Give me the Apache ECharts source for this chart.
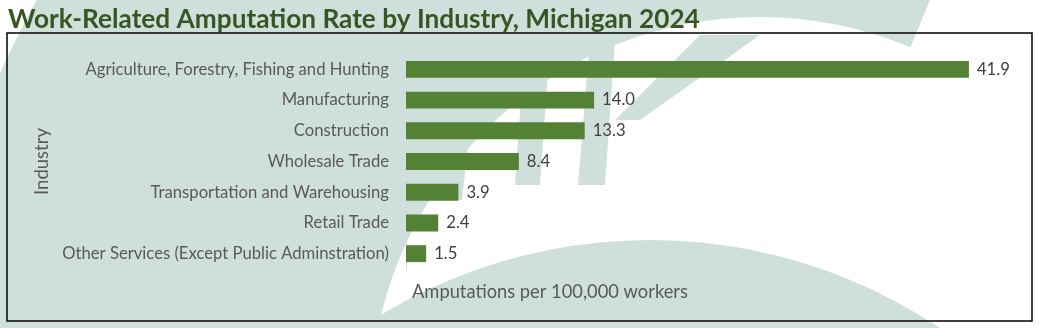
<!DOCTYPE html>
<html>
<head>
<meta charset="utf-8">
<script src="https://cdn.jsdelivr.net/npm/echarts@6/dist/echarts.min.js"></script>
<style>
html,body{margin:0;padding:0;background:#fff;}
#c{width:1039px;height:328px;}
</style>
</head>
<body>
<div id="c"></div>
<script>
const titleText = 'Work-Related Amputation Rate by Industry, Michigan 2024';
const categories = [
  'Agriculture, Forestry, Fishing and Hunting',
  'Manufacturing',
  'Construction',
  'Wholesale Trade',
  'Transportation and Warehousing',
  'Retail Trade',
  'Other Services (Except Public Adminstration)'
];
const values = [41.9, 14.0, 13.3, 8.4, 3.9, 2.4, 1.5];
const xAxisName = 'Amputations per 100,000 workers';
const yAxisName = 'Industry';

const FAMILY = 'Lato, "Open Sans", sans-serif';
const cv = document.createElement('canvas').getContext('2d');
function fit(text, weight, target) {
  cv.font = weight + ' 100px ' + FAMILY;
  return 100 * target / cv.measureText(text).width;
}
const titleSize = fit(titleText, 'bold', 692);
const catSize = fit(categories[6], 'normal', 327);
const xNameSize = fit(xAxisName, 'normal', 276);
const yNameSize = fit(yAxisName, 'normal', 67);

const WM = '#cfe0dc';
const chart = echarts.init(document.getElementById('c'), null, {renderer: 'canvas'});
chart.setOption({
  backgroundColor: '#ffffff',
  animation: false,
  title: {
    text: titleText, left: 3, top: 2,
    textStyle: {fontFamily: FAMILY, fontWeight: 'bold', fontSize: titleSize, color: '#375623'}
  },
  grid: {left: 406, top: 54, height: 215, width: 604.6, containLabel: false},
  xAxis: {
    type: 'value', min: 0, max: 45,
    show: true,
    axisLine: {show: false}, axisTick: {show: false}, axisLabel: {show: false},
    splitLine: {show: false}
  },
  yAxis: {
    type: 'category', data: categories, inverse: true,
    axisLine: {show: true, lineStyle: {color: '#d9d9d9', width: 1}},
    axisTick: {show: false},
    axisLabel: {margin: 17, color: '#595959', fontFamily: FAMILY, fontSize: catSize},
    name: yAxisName, nameLocation: 'middle', nameRotate: 90, nameGap: 351,
    nameTextStyle: {color: '#595959', fontFamily: FAMILY, fontSize: yNameSize}
  },
  graphic: [
    {type: 'group', z: -10, silent: true, children: [
      {type: 'sector', shape: {cx: 760, cy: 407, r0: 390, r: 830, startAngle: -3.5, endAngle: -1.175}, style: {fill: WM}},
      {type: 'circle', shape: {cx: 650, cy: 762, r: 522}, style: {fill: WM}},
      {type: 'polygon', shape: {points: [[450, 55], [478, 55], [462, 200], [434, 200]]}, style: {fill: WM}},
      {type: 'polygon', shape: {points: [[525, 40], [550, 40], [540, 185], [515, 185]]}, style: {fill: WM}},
      {type: 'polygon', shape: {points: [[590, 40], [615, 40], [605, 185], [578, 185]]}, style: {fill: WM}},
      {type: 'polygon', shape: {points: [[700, 35], [760, 35], [640, 120], [615, 120]]}, style: {fill: WM}}
    ]},
    {type: 'rect', z: 10, silent: true, shape: {x: 7, y: 33, width: 1025, height: 288},
      style: {fill: 'none', stroke: '#000', lineWidth: 1.5}},
    {type: 'text', z: 10, left: 412, top: 294 - xNameSize * 0.62,
      style: {text: xAxisName, fill: '#595959', font: 'normal ' + xNameSize + 'px ' + FAMILY}}
  ],
  series: [{
    type: 'bar', data: values, barCategoryGap: '45%',
    itemStyle: {color: '#548235'},
    label: {show: true, position: 'right', distance: 8, color: '#404040',
      fontFamily: FAMILY, fontSize: catSize,
      formatter: p => p.value.toFixed(1)}
  }]
});
</script>
</body>
</html>
